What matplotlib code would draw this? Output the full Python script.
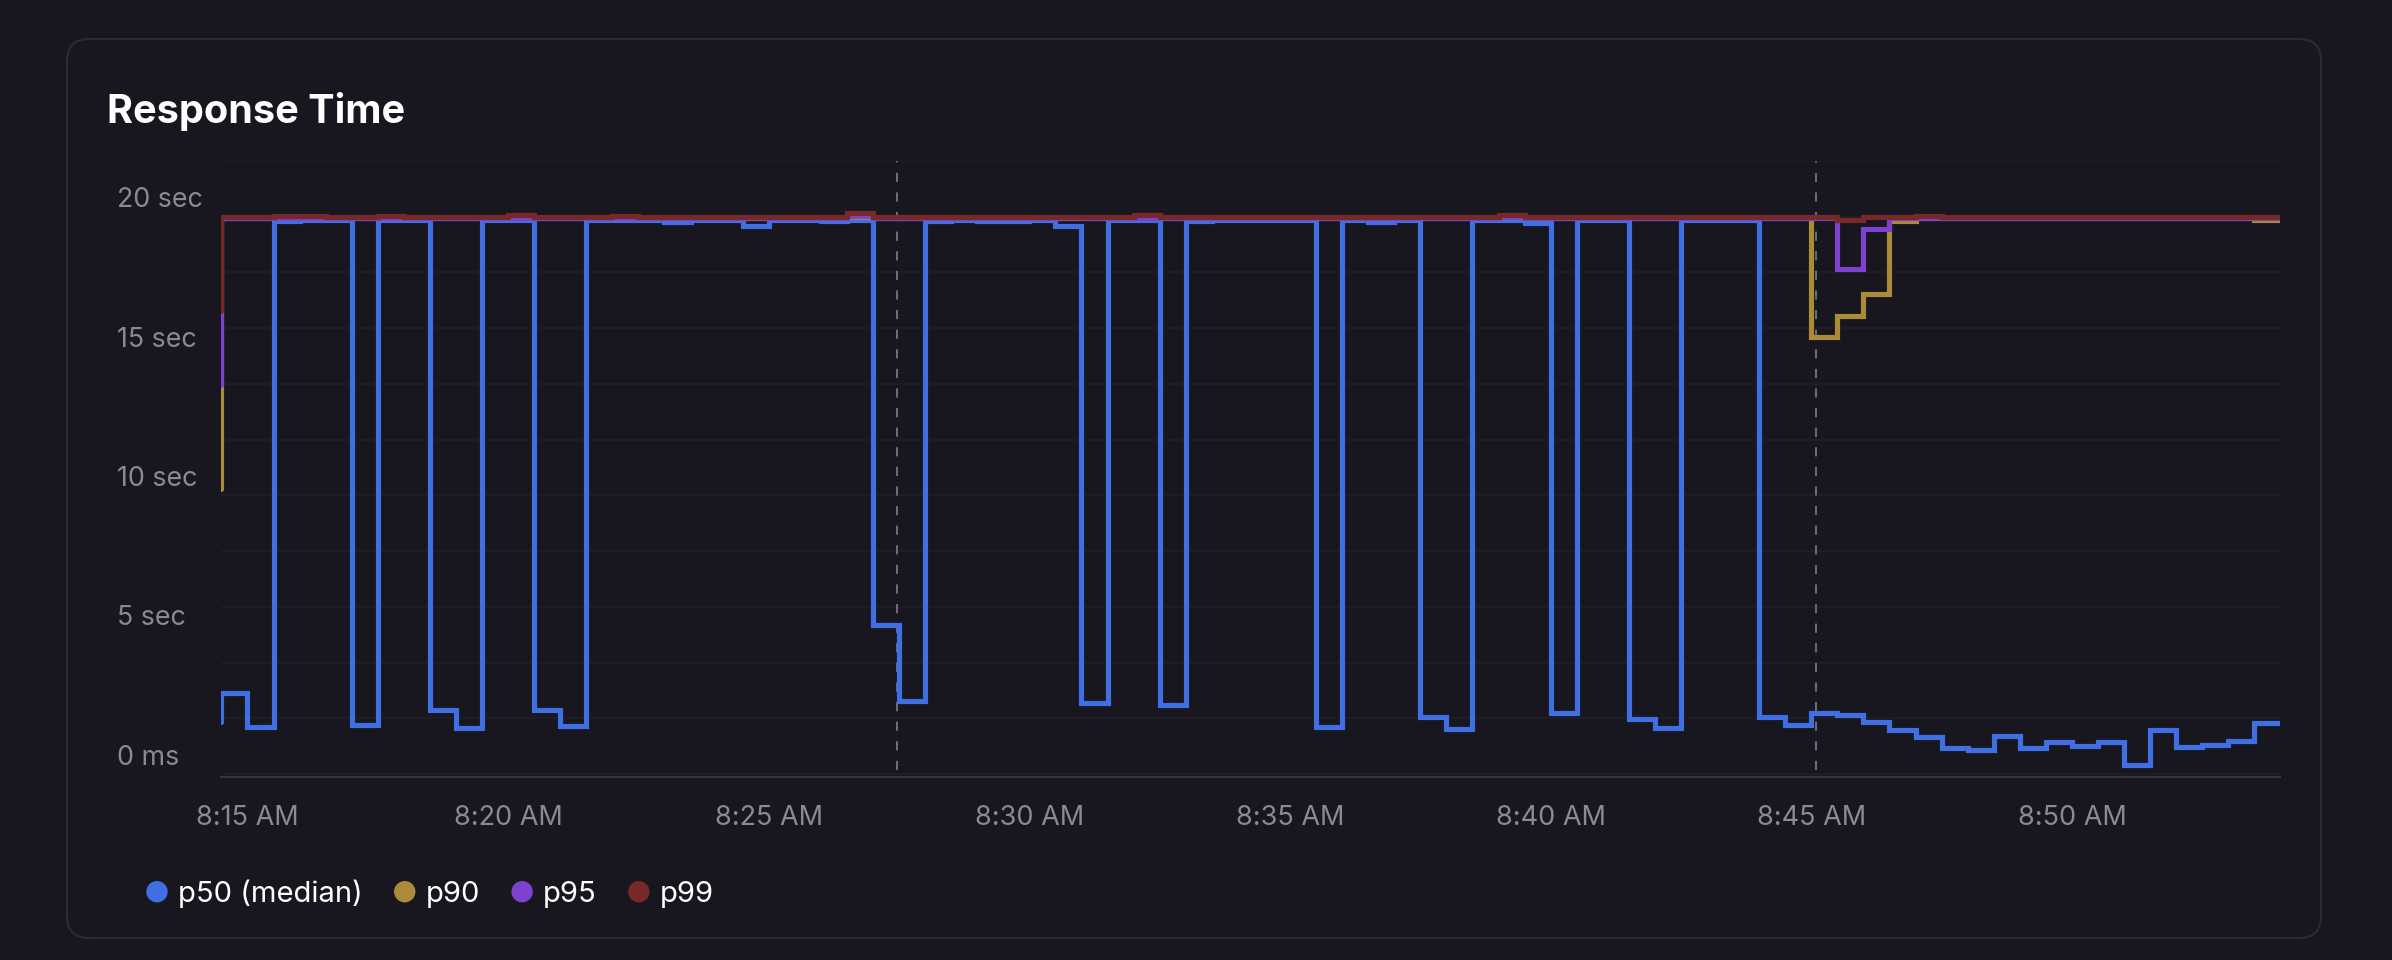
import matplotlib
matplotlib.use("Agg")
import matplotlib.pyplot as plt
import matplotlib.dates as mdates
from matplotlib.patches import FancyBboxPatch, Circle
from matplotlib.transforms import blended_transform_factory, ScaledTranslation
import pandas as pd

plt.rcParams['font.family'] = ['Inter', 'DejaVu Sans']

# ---------------- data ----------------
title = "Response Time"
start_time = "2024-05-14 08:14:30"
series_names = ["p50 (median)", "p90", "p95", "p99"]

p50 = [1.87,
       2.91, 1.68, 19.86, 19.87, 19.87, 1.77, 19.87, 19.87, 2.32, 1.65,
       19.87, 19.87, 2.32, 1.72, 19.87, 19.87, 19.87, 19.80, 19.87, 19.87,
       19.68, 19.87, 19.87, 19.83, 19.87, 5.36, 2.61, 19.86, 19.87, 19.86,
       19.86, 19.87, 19.68, 2.54, 19.87, 19.87, 2.47, 19.86, 19.87, 19.87,
       19.87, 19.87, 1.68, 19.87, 19.82, 19.87, 2.07, 1.62, 19.87, 19.87,
       19.79, 2.21, 19.87, 19.87, 1.99, 1.65, 19.87, 19.87, 19.87, 2.07,
       1.75, 2.21, 2.14, 1.87, 1.60, 1.32, 0.94, 0.88, 1.38, 0.94,
       1.16, 1.03, 1.16, 0.33, 1.58, 0.96, 1.06, 1.20, 1.84]

p90 = [10.25,
       19.97, 19.97, 19.97, 19.97, 19.97, 19.97, 19.97, 19.97, 19.97, 19.97,
       19.97, 19.97, 19.97, 19.97, 19.97, 19.97, 19.97, 19.97, 19.97, 19.97,
       19.97, 19.97, 19.97, 19.97, 19.99, 19.97, 19.97, 19.97, 19.97, 19.97,
       19.97, 19.97, 19.97, 19.97, 19.97, 19.99, 19.97, 19.97, 19.97, 19.97,
       19.97, 19.97, 19.97, 19.97, 19.97, 19.97, 19.97, 19.97, 19.97, 19.99,
       19.97, 19.97, 19.97, 19.97, 19.97, 19.97, 19.97, 19.97, 19.97, 19.97,
       19.97, 15.70, 16.44, 17.23, 19.83, 19.97, 19.97, 19.97, 19.97, 19.97,
       19.97, 19.97, 19.97, 19.97, 19.97, 19.97, 19.97, 19.97, 19.88]

p95 = [13.97,
       19.955, 19.955, 19.955, 19.955, 19.955, 19.955, 19.955, 19.955, 19.955, 19.955,
       19.955, 19.97, 19.955, 19.955, 19.955, 19.955, 19.955, 19.955, 19.955, 19.955,
       19.955, 19.955, 19.955, 19.955, 20.03, 19.955, 19.955, 19.955, 19.955, 19.955,
       19.955, 19.955, 19.955, 19.955, 19.955, 19.97, 19.955, 19.955, 19.955, 19.955,
       19.955, 19.955, 19.955, 19.955, 19.955, 19.955, 19.955, 19.955, 19.955, 19.98,
       19.955, 19.955, 19.955, 19.955, 19.955, 19.955, 19.955, 19.955, 19.955, 19.955,
       19.955, 19.955, 18.12, 19.56, 19.955, 19.97, 19.955, 19.955, 19.955, 19.955,
       19.955, 19.955, 19.955, 19.955, 19.955, 19.955, 19.955, 19.955, 19.955]

p99 = [16.63,
       20.0, 20.0, 20.02, 20.03, 20.0, 20.0, 20.02, 20.0, 20.0, 20.0,
       20.0, 20.08, 20.0, 20.0, 20.0, 20.02, 20.0, 20.0, 20.0, 20.0,
       20.0, 20.0, 20.0, 20.0, 20.12, 20.0, 20.0, 20.0, 20.0, 20.0,
       20.0, 20.0, 20.0, 20.0, 20.0, 20.05, 20.0, 20.0, 20.0, 20.0,
       20.0, 20.0, 20.0, 20.0, 20.0, 20.0, 20.0, 20.0, 20.0, 20.07,
       20.0, 20.0, 20.0, 20.0, 20.0, 20.0, 20.0, 20.0, 20.0, 20.0,
       20.0, 20.0, 19.87, 20.0, 20.0, 20.03, 20.0, 20.0, 20.0, 20.0,
       20.0, 20.0, 20.0, 20.0, 20.0, 20.0, 20.0, 20.0, 20.0]

marker_times = ["2024-05-14 08:27:28", "2024-05-14 08:45:05"]

x_tick_times = ["2024-05-14 08:15", "2024-05-14 08:20", "2024-05-14 08:25",
                "2024-05-14 08:30", "2024-05-14 08:35", "2024-05-14 08:40",
                "2024-05-14 08:45", "2024-05-14 08:50"]
x_tick_labels = ["8:15 AM", "8:20 AM", "8:25 AM", "8:30 AM", "8:35 AM",
                 "8:40 AM", "8:45 AM", "8:50 AM"]
y_tick_values = [0, 5, 10, 15, 20]
y_tick_labels = ["0 ms", "5 sec", "10 sec", "15 sec", "20 sec"]
grid_values = [0, 2, 4, 6, 8, 10, 12, 14, 16, 18, 20, 22]

# ---------------- style ----------------
W, H = 2392, 960
BG = '#18171f'
BORDER = '#2c2b34'
GRID = '#201f28'
AXIS = '#35343d'
TICK = '#8b8a93'
COLORS = ['#3f6fe2', '#ab8a3a', '#7d43cf', '#772828']
LW = 3.7

fig = plt.figure(figsize=(W / 100, H / 100), dpi=100, facecolor=BG)

# background / card layer in pixel coordinates
bg = fig.add_axes([0, 0, 1, 1])
bg.set_xlim(0, W)
bg.set_ylim(H, 0)
bg.axis('off')
bg.set_zorder(0)
card = FancyBboxPatch((67, 39), 2321 - 67, 938 - 39,
                      boxstyle="round,pad=0,rounding_size=22",
                      fc=BG, ec=BORDER, lw=1.5)
bg.add_patch(card)
bg.text(107, 123, title, color='white', fontsize=28.5, fontweight='bold',
        va='baseline', ha='left')

# main chart
ax = fig.add_axes([221.4 / W, 1 - 777 / H, (2280.4 - 221.4) / W, (777 - 161) / H])
ax.set_facecolor('none')
ax.set_zorder(1)

times = pd.date_range(start_time, periods=len(p50), freq="30s")
tnum = mdates.date2num(times.to_pydatetime())

ax.set_xlim(tnum[0], tnum[-1])
ax.set_ylim(-0.1, 22)

for g in grid_values:
    ax.axhline(g, color=GRID, lw=1.1, zorder=0.5)

for mt in marker_times:
    xm = mdates.date2num(pd.Timestamp(mt).to_pydatetime())
    ax.axvline(xm, ymin=0.011, ymax=1.0, color='#6d6c74', lw=1.44,
               dashes=(4.6, 5.2), zorder=1.5)

for vals, c, z in zip([p50, p90, p95, p99], COLORS, [2, 3, 4, 5]):
    ax.step(tnum, vals, where='pre', color=c, lw=LW, zorder=z,
            solid_joinstyle='miter', solid_capstyle='round')

for s in ['top', 'right', 'left']:
    ax.spines[s].set_visible(False)
ax.spines['bottom'].set_color(AXIS)
ax.spines['bottom'].set_linewidth(1.5)
ax.set_xticks([])
ax.set_yticks([])

# y labels (sitting above their value lines)
ytr = blended_transform_factory(ax.transAxes, ax.transData) + \
    ScaledTranslation(0, 0.095, fig.dpi_scale_trans)
xl = (117 - 221.4) / (2280.4 - 221.4)
for v, lab in zip(y_tick_values, y_tick_labels):
    ax.text(xl, v, lab, transform=ytr, color=TICK, fontsize=19.3,
            ha='left', va='baseline', clip_on=False)

# x labels
xtr = blended_transform_factory(ax.transData, ax.transAxes) + \
    ScaledTranslation(0, -0.48, fig.dpi_scale_trans)
for t, lab in zip(x_tick_times, x_tick_labels):
    xv = mdates.date2num(pd.Timestamp(t).to_pydatetime())
    ax.text(xv, 0, lab, transform=xtr, color=TICK, fontsize=19.5,
            ha='center', va='baseline', clip_on=False)

# legend
renderer = fig.canvas.get_renderer()
cx = 157
for name, c in zip(series_names, COLORS):
    bg.add_patch(Circle((cx, 891.7), 10, color=c))
    t = bg.text(cx + 21, 901.7, name, color='white', fontsize=21,
                ha='left', va='baseline')
    ext = t.get_window_extent(renderer)
    cx = ext.x1 + 42

fig.savefig('out.png', dpi=100, facecolor=BG)
